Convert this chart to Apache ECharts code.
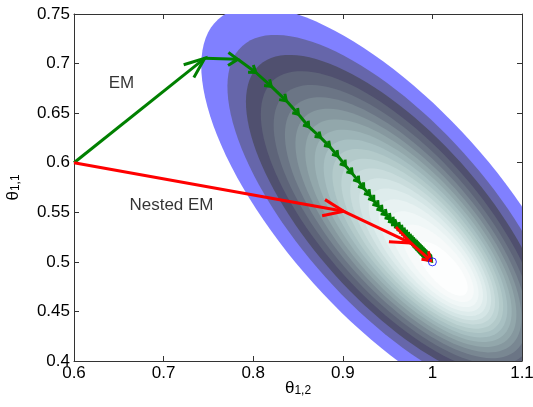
<!DOCTYPE html>
<html>
<head>
<meta charset="utf-8">
<script src="https://cdn.jsdelivr.net/npm/echarts@6/dist/echarts.min.js"></script>
<style>
html, body { margin: 0; padding: 0; background: #fff; }
#main { width: 533px; height: 407px; }
</style>
</head>
<body>
<div id="main"></div>
<script>
// likelihood contours + EM / Nested EM paths

// lowest contour level: ellipse centre and half-axis vectors (data units)
var outerCenter = [0.9551, 0.5499];
var outerMajor = [0.1941, -0.1949];
var outerMinor = [-0.0879, -0.0715];
// where the contours shrink to (maximum)
var peak = [1.0247, 0.4797];
// relative size of each level (outer -> inner)
var levelScale = [1, 0.877, 0.796, 0.733, 0.680, 0.634, 0.592, 0.553, 0.516, 0.481,
	0.447, 0.413, 0.379, 0.345, 0.310, 0.273, 0.233, 0.188, 0.131];
// how far each level's centre has moved from outerCenter towards peak
var levelShift = [0, 0.043, 0.092, 0.138, 0.181, 0.221, 0.261, 0.299, 0.337, 0.374,
	0.411, 0.450, 0.489, 0.530, 0.573, 0.620, 0.672, 0.732, 0.810];
var levelColors = ['#8080ff', '#6666aa', '#50506f', '#5e6479', '#6b7585', '#798792', '#86989f',
	'#92a7ab', '#9db4b7', '#a8c0c2', '#b3caca', '#bed4d4', '#c9dcdc', '#d4e5e5', '#deecec',
	'#e8f2f2', '#f0f7f7', '#f7fafa', '#fdfefe'];

// EM iterates
var emX = [0.6, 0.7459, 0.7828, 0.8030, 0.8202, 0.8370, 0.8505, 0.8620, 0.8751, 0.8855,
	0.8944, 0.9030, 0.9105, 0.9179, 0.9234, 0.9301, 0.9346, 0.9395, 0.9440, 0.9488,
	0.9532, 0.9569, 0.9604, 0.9637, 0.9667, 0.9695, 0.9720, 0.9743, 0.9764, 0.9783,
	0.9800, 0.9816, 0.9830, 0.9843, 0.9855, 0.9866, 0.9876, 0.9885, 0.9894, 0.9902,
	0.9910, 0.9917, 0.9924, 0.9931, 0.9937, 0.9943, 0.9949, 0.9955, 0.9960, 0.9965,
	0.9970, 0.9975, 0.9980, 0.9985, 0.9990];
var emY = [0.6, 0.7053, 0.7043, 0.6910, 0.6770, 0.6624, 0.6488, 0.6363, 0.6256, 0.6162,
	0.6068, 0.5970, 0.5893, 0.5809, 0.5742, 0.5674, 0.5617, 0.5563, 0.5516, 0.5473,
	0.5432, 0.5395, 0.5373, 0.5342, 0.5314, 0.5288, 0.5264, 0.5242, 0.5223, 0.5205,
	0.5189, 0.5174, 0.5160, 0.5148, 0.5137, 0.5126, 0.5117, 0.5108, 0.5100, 0.5092,
	0.5085, 0.5078, 0.5072, 0.5065, 0.5059, 0.5054, 0.5048, 0.5042, 0.5038, 0.5033,
	0.5028, 0.5024, 0.5019, 0.5014, 0.5009];
// Nested EM iterates
var nestedX = [0.6, 0.901, 0.976, 0.998];
var nestedY = [0.6, 0.551, 0.519, 0.5015];
// fixed point
var optimum = [1, 0.5];

var xTicks = { min: 0.6, max: 1.1, interval: 0.1 };
var yTicks = { min: 0.4, max: 0.75, interval: 0.05 };

var fontFamily = 'Liberation Sans, Arial, Helvetica, sans-serif';
var frameColor = '#333';

var chart = echarts.init(document.getElementById('main'));

function toSegments(xs, ys) {
	var segs = [];
	for (var i = 0; i < xs.length - 1; i++) {
		segs.push([xs[i], ys[i], xs[i + 1], ys[i + 1]]);
	}
	return segs;
}

function clipRect(params) {
	var cs = params.coordSys;
	return { type: 'rect', shape: { x: cs.x, y: cs.y, width: cs.width, height: cs.height } };
}

// arrow: line + open head
function arrowRenderer(color) {
	return function (params, api) {
		var p0 = api.coord([api.value(0), api.value(1)]);
		var p1 = api.coord([api.value(2), api.value(3)]);
		var dx = p1[0] - p0[0], dy = p1[1] - p0[1];
		var len = Math.sqrt(dx * dx + dy * dy);
		var ang = Math.atan2(dy, dx);
		var head = Math.max(6, Math.min(22, len * 0.35));
		var spread = len > 60 ? 0.38 : 0.6;
		var b1 = [p1[0] - head * Math.cos(ang - spread), p1[1] - head * Math.sin(ang - spread)];
		var b2 = [p1[0] - head * Math.cos(ang + spread), p1[1] - head * Math.sin(ang + spread)];
		var st = { stroke: color, lineWidth: 3, fill: null, lineJoin: 'miter', lineCap: 'butt' };
		return {
			type: 'group',
			children: [
				{ type: 'line', shape: { x1: p0[0], y1: p0[1], x2: p1[0], y2: p1[1] }, style: st },
				{ type: 'polyline', shape: { points: [b1, p1, b2] }, style: st }
			]
		};
	};
}

function axisName() {
	return {
		rich: {
			t: { fontSize: 17, fontFamily: fontFamily, color: '#000', lineHeight: 17, verticalAlign: 'top' },
			s: { fontSize: 12, fontFamily: fontFamily, color: '#000', lineHeight: 12, padding: [12, 0, 0, 0], verticalAlign: 'bottom' }
		}
	};
}

var tickStyle = { inside: true, length: 5, lineStyle: { color: frameColor } };
var lineStyle = { onZero: false, lineStyle: { color: frameColor, width: 1 } };
var labelStyle = { fontSize: 17, color: '#000', fontFamily: fontFamily };

var option = {
	animation: false,
	backgroundColor: '#fff',
	textStyle: { fontFamily: fontFamily },
	grid: { left: 74, right: 11, top: 14, bottom: 46, containLabel: false, outerBoundsMode: 'none' },
	xAxis: [{
		type: 'value', min: xTicks.min, max: xTicks.max, interval: xTicks.interval,
		position: 'bottom',
		name: '{t|θ}{s|1,2}', nameLocation: 'middle', nameGap: 19, nameMoveOverlap: false,
		nameTextStyle: axisName(),
		axisLine: lineStyle,
		axisTick: tickStyle,
		axisLabel: Object.assign({ margin: 4 }, labelStyle),
		splitLine: { show: false }
	}, {
		type: 'value', min: xTicks.min, max: xTicks.max, interval: xTicks.interval,
		position: 'top',
		axisLine: lineStyle,
		axisTick: tickStyle,
		axisLabel: { show: false },
		splitLine: { show: false }
	}],
	yAxis: [{
		type: 'value', min: yTicks.min, max: yTicks.max, interval: yTicks.interval,
		position: 'left',
		name: '{t|θ}{s|1,1}', nameLocation: 'middle', nameGap: 52, nameRotate: 90, nameMoveOverlap: false,
		nameTextStyle: axisName(),
		axisLine: lineStyle,
		axisTick: tickStyle,
		axisLabel: Object.assign({ margin: 4 }, labelStyle),
		splitLine: { show: false }
	}, {
		type: 'value', min: yTicks.min, max: yTicks.max, interval: yTicks.interval,
		position: 'right',
		axisLine: lineStyle,
		axisTick: tickStyle,
		axisLabel: { show: false },
		splitLine: { show: false }
	}],
	series: [{
		// filled contours, one ellipse per level
		type: 'custom',
		silent: true,
		z: 1,
		data: levelScale.map(function (s, i) {
			return [
				outerCenter[0] + levelShift[i] * (peak[0] - outerCenter[0]),
				outerCenter[1] + levelShift[i] * (peak[1] - outerCenter[1]),
				s, i
			];
		}),
		encode: { x: 0, y: 1 },
		renderItem: function (params, api) {
			var cx = api.value(0), cy = api.value(1), s = api.value(2), i = api.value(3);
			var pts = [];
			for (var k = 0; k < 120; k++) {
				var t = k / 120 * Math.PI * 2;
				var c = Math.cos(t) * s, sn = Math.sin(t) * s;
				pts.push(api.coord([
					cx + c * outerMajor[0] + sn * outerMinor[0],
					cy + c * outerMajor[1] + sn * outerMinor[1]
				]));
			}
			return {
				type: 'group',
				clipPath: clipRect(params),
				children: [{
					type: 'polygon',
					shape: { points: pts },
					style: { fill: levelColors[i], stroke: null }
				}]
			};
		}
	}, {
		// EM
		type: 'custom',
		silent: true,
		z: 3,
		data: toSegments(emX, emY),
		encode: { x: [0, 2], y: [1, 3] },
		renderItem: arrowRenderer('#008000')
	}, {
		// Nested EM
		type: 'custom',
		silent: true,
		z: 4,
		data: toSegments(nestedX, nestedY),
		encode: { x: [0, 2], y: [1, 3] },
		renderItem: arrowRenderer('#ff0000')
	}, {
		type: 'scatter',
		silent: true,
		z: 5,
		data: [optimum],
		symbol: 'circle',
		symbolSize: 8,
		itemStyle: { color: 'transparent', borderColor: '#0000ff', borderWidth: 1 }
	}, {
		// text annotations
		type: 'scatter',
		silent: true,
		z: 6,
		symbolSize: 0,
		data: [
			{ name: 'EM', value: [0.653, 0.68] },
			{ name: 'Nested EM', value: [0.7088, 0.5573] }
		],
		label: {
			show: true, position: 'inside', formatter: '{b}',
			fontSize: 17, color: '#000', fontFamily: fontFamily
		}
	}]
};

chart.setOption(option);
</script>
</body>
</html>
